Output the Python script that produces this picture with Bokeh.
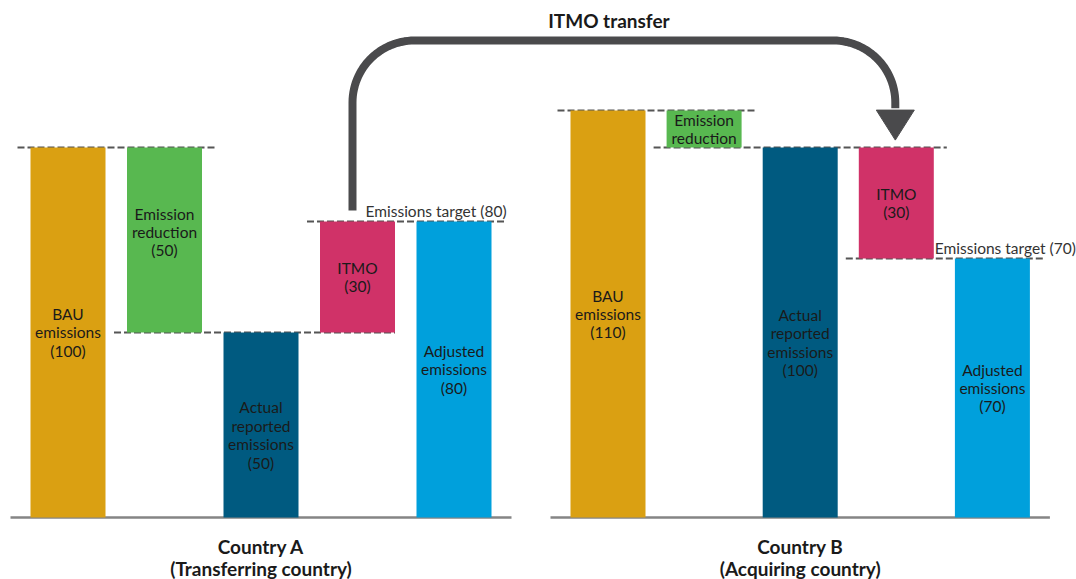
import numpy as np
from bokeh.plotting import figure
from bokeh.models import Range1d, ColumnDataSource
from bokeh.core.properties import value
from bokeh.embed import file_html
from bokeh.resources import INLINE

# ---------------- data ----------------
steps = ["BAU emissions", "Emission reduction", "Actual reported emissions", "ITMO", "Adjusted emissions"]
countries = ["Country A", "Country B"]
roles = ["(Transferring country)", "(Acquiring country)"]
bau = [100, 110]
reduction = [50, 10]
itmo = [30, 30]
itmo_sign = [1, -1]          # A transfers (adds back), B acquires (subtracts)
labels_a = ["BAU\nemissions\n(100)", "Emission\nreduction\n(50)", "Actual\nreported\nemissions\n(50)",
            "ITMO\n(30)", "Adjusted\nemissions\n(80)"]
labels_b = ["BAU\nemissions\n(110)", "Emission\nreduction", "Actual\nreported\nemissions\n(100)",
            "ITMO\n(30)", "Adjusted\nemissions\n(70)"]
colors = ["#DAA012", "#58B850", "#005A80", "#D03268", "#00A0DC"]

# ---------------- layout ----------------
W, H = 1076, 579
PX_PER_UNIT = 3.7
BASE_PX = 517                      # baseline position from top of plot (px)
y_top = BASE_PX / PX_PER_UNIT
y_bot = -(H - BASE_PX) / PX_PER_UNIT
panel_x0 = [67.5, 607.5]
slot = [96.5, 96.1]
bar_w = 75
label_dy = [[0, -8, 10, 0, 0], [0, 0, 10, 0, 0]]
FONT = "Lato"
LBL_SIZE = 15.5

p = figure(width=W, height=H, x_range=Range1d(0, W), y_range=Range1d(y_bot, y_top),
           output_backend="svg", toolbar_location=None, min_border=0)
p.axis.visible = False
p.grid.visible = False
p.outline_line_color = None

bx, bt, bb, bc, lx, ly, lt, ldy = [], [], [], [], [], [], [], []
itmo_centers = []
for k in range(2):
    actual = bau[k] - reduction[k]
    adjusted = actual + itmo_sign[k] * itmo[k]
    tops = [bau[k], bau[k], actual, max(actual, adjusted), adjusted]
    bots = [0, actual, 0, min(actual, adjusted), 0]
    xs = [panel_x0[k] + i * slot[k] for i in range(5)]
    itmo_centers.append(xs[3])
    labs = labels_a if k == 0 else labels_b
    for i in range(5):
        bx.append(xs[i]); bt.append(tops[i]); bb.append(bots[i]); bc.append(colors[i])
        lx.append(xs[i]); ly.append((tops[i] + bots[i]) / 2); lt.append(labs[i]); ldy.append(label_dy[k][i])

    ext = 13
    dashes = [(bau[k], xs[0] - bar_w / 2 - ext, xs[1] + bar_w / 2 + ext),
              (actual, xs[1] - bar_w / 2 - ext, xs[3] + bar_w / 2 + (0 if k == 0 else ext)),
              (adjusted, xs[3] - bar_w / 2 - ext, xs[4] + bar_w / 2 + ext)]
    for lvl, x0, x1 in dashes:
        p.line([x0, x1], [lvl, lvl], line_color="#555555", line_width=2, line_dash="7 3")

    # baseline
    p.line([xs[0] - bar_w / 2 - 20, xs[4] + bar_w / 2 + 20], [0, 0], line_color="#858585", line_width=2.5)

    # target text
    tx = xs[3] + 8 if k == 0 else xs[3] + bar_w / 2 + 1
    p.text(x=[tx], y=[adjusted], text=[f"Emissions target ({adjusted})"], text_align="left",
           text_baseline="middle", y_offset=-11, text_font=value(FONT), text_font_size=f"{LBL_SIZE}px",
           text_color="#333333")

    # country label
    cx = (xs[0] + xs[4]) / 2
    p.text(x=[cx], y=[0], text=[countries[k] + "\n" + roles[k]], text_align="center",
           text_baseline="middle", y_offset=40, text_font=value(FONT), text_font_size="19px",
           text_font_style="bold", text_color="#1a1a1a", text_line_height=0.96)

src = ColumnDataSource(dict(x=bx, top=bt, bottom=bb, color=bc))
p.vbar(x="x", top="top", bottom="bottom", width=bar_w, fill_color="color", line_color=None, source=src)

lsrc = ColumnDataSource(dict(x=lx, y=ly, text=lt, dy=ldy))
p.text(x="x", y="y", text="text", y_offset="dy", source=lsrc, text_align="center", text_baseline="middle",
       text_font=value(FONT), text_font_size=f"{LBL_SIZE}px", text_color="#1a1a1a", text_line_height=1.02)

# ---------------- ITMO transfer arrow ----------------
xL = itmo_centers[0] - 5
xR = itmo_centers[1] - 1
start_y = bau[0] - reduction[0] + itmo[0] + 3
top_y = (BASE_PX - 40) / PX_PER_UNIT
r_px = 62
ry = r_px / PX_PER_UNIT
tip_y = bau[1] - reduction[1] + 2
head_len = 30 / PX_PER_UNIT
head_half = 19
t1 = np.linspace(np.pi, np.pi / 2, 30)
t2 = np.linspace(np.pi / 2, 0, 30)
ax = np.concatenate([[xL], xL + r_px + r_px * np.cos(t1), xR - r_px + r_px * np.cos(t2), [xR]])
ay = np.concatenate([[start_y], top_y - ry + ry * np.sin(t1), top_y - ry + ry * np.sin(t2), [tip_y + head_len + 0.5]])
p.line(ax, ay, line_color="#4a4a4c", line_width=8, line_join="round")
p.patch([xR - head_half, xR + head_half, xR], [tip_y + head_len, tip_y + head_len, tip_y],
        fill_color="#4a4a4c", line_color="#4a4a4c", line_width=1)
p.text(x=[(xL + xR) / 2], y=[top_y], text=["ITMO transfer"], text_align="center", text_baseline="middle",
       x_offset=-15, y_offset=-20, text_font=value(FONT), text_font_size="19px", text_font_style="bold",
       text_color="#1a1a1a")

open("out.html", "w").write(file_html(p, INLINE))
